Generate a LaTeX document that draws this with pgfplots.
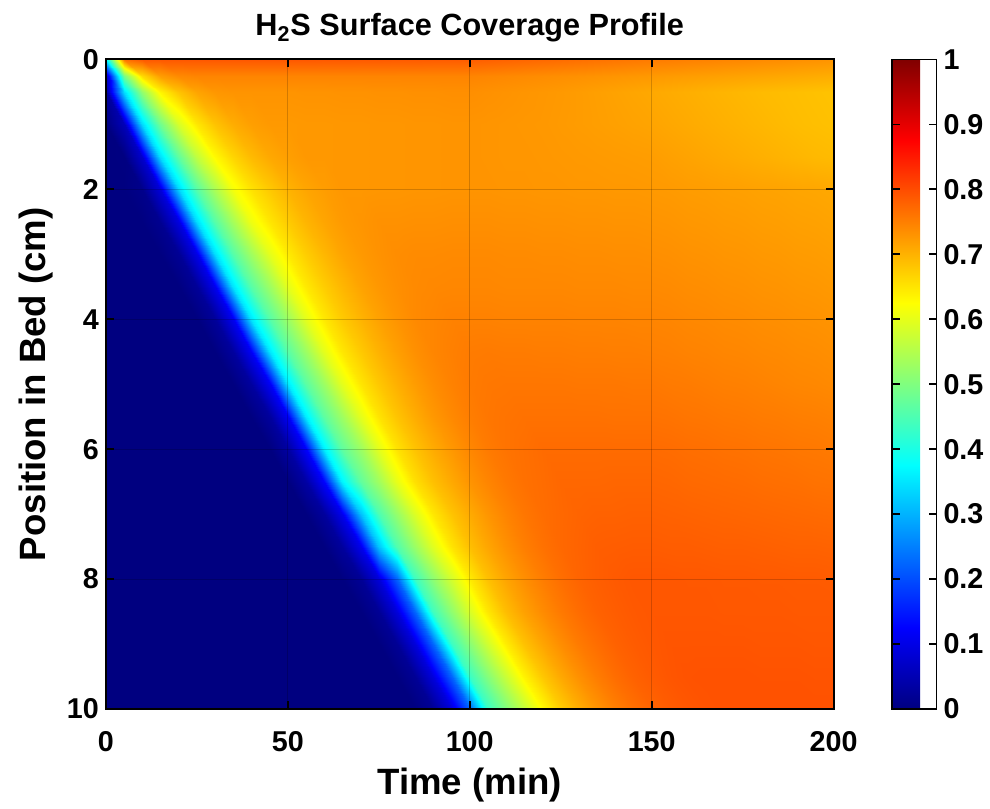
\documentclass[border=0pt]{standalone}
\usepackage{fontspec}
\setmainfont{Liberation Sans}
\usepackage{pgfplots}
\pgfplotsset{compat=1.18}
\pgfkeys{/pgf/number format/assume math mode=true}
\begin{document}
\begin{tikzpicture}[font=\bfseries]
\begin{axis}[
  scale only axis, width=368pt, height=328.5pt,
  xmin=0, xmax=200, ymin=0, ymax=10, y dir=reverse,
  enlargelimits=false,
  xtick={0,50,100,150,200}, ytick={0,2,4,6,8,10},
  axis on top,
  grid=major, grid style={black, opacity=0.18, line width=0.6pt},
  major tick length=4pt, tick style={black, line width=1pt},
  axis line style={line width=1pt},
  ticklabel style={font=\fontsize{14.5}{17}\selectfont\bfseries},
  xticklabel style={yshift=-8pt},
  label style={font=\fontsize{18.5}{22}\selectfont\bfseries},
  xlabel style={yshift=-1pt},
  title style={font=\fontsize{15.5}{18}\selectfont\bfseries, yshift=-1pt},
  title={H\textsubscript{2}S Surface Coverage Profile},
  xlabel={Time (min)}, ylabel={Position in Bed (cm)},
  colormap/jet,
  point meta min=0, point meta max=1,
  colorbar,
  colorbar style={
    width=22.5pt,
    at={(parent axis.north east)}, anchor=north west, xshift=21pt,
    ytick={0,0.1,0.2,0.3,0.4,0.5,0.6,0.7,0.8,0.9,1},
    yticklabel style={font=\fontsize{14.5}{17}\selectfont\bfseries, /pgf/number format/fixed, /pgf/number format/precision=1},
    major tick length=4pt, tick style={black, line width=0.8pt},
    axis line style={line width=0.8pt},
  },
]
\addplot[surf, shader=interp, mesh/cols=41, point meta=explicit] coordinates {
(0,10)[0] (5,10)[0] (10,10)[0] (15,10)[0] (20,10)[0] (25,10)[0] (30,10)[0] (35,10)[0] (40,10)[0] (45,10)[0] (50,10)[0] (55,10)[0] (60,10)[0] (65,10)[0] (70,10)[0] (75,10)[0] (80,10)[0] (85,10)[0] (90,10)[.021] (95,10)[.090] (100,10)[.224] (105,10)[.430] (110,10)[.500] (115,10)[.565] (120,10)[.630] (125,10)[.675] (130,10)[.705] (135,10)[.730] (140,10)[.750] (145,10)[.765] (150,10)[.777] (155,10)[.785] (160,10)[.790] (165,10)[.793] (170,10)[.795] (175,10)[.795] (180,10)[.795] (185,10)[.795] (190,10)[.795] (195,10)[.795] (200,10)[.795]

(0,9.5)[0] (5,9.5)[0] (10,9.5)[0] (15,9.5)[0] (20,9.5)[0] (25,9.5)[0] (30,9.5)[0] (35,9.5)[0] (40,9.5)[0] (45,9.5)[0] (50,9.5)[0] (55,9.5)[0] (60,9.5)[0] (65,9.5)[0] (70,9.5)[0] (75,9.5)[0] (80,9.5)[0] (85,9.5)[.021] (90,9.5)[.090] (95,9.5)[.224] (100,9.5)[.432] (105,9.5)[.505] (110,9.5)[.572] (115,9.5)[.636] (120,9.5)[.680] (125,9.5)[.710] (130,9.5)[.734] (135,9.5)[.753] (140,9.5)[.768] (145,9.5)[.779] (150,9.5)[.786] (155,9.5)[.791] (160,9.5)[.794] (165,9.5)[.795] (170,9.5)[.795] (175,9.5)[.795] (180,9.5)[.794] (185,9.5)[.794] (190,9.5)[.794] (195,9.5)[.793] (200,9.5)[.793]

(0,9)[0] (5,9)[0] (10,9)[0] (15,9)[0] (20,9)[0] (25,9)[0] (30,9)[0] (35,9)[0] (40,9)[0] (45,9)[0] (50,9)[0] (55,9)[0] (60,9)[0] (65,9)[0] (70,9)[0] (75,9)[0] (80,9)[.021] (85,9)[.090] (90,9)[.224] (95,9)[.435] (100,9)[.510] (105,9)[.580] (110,9)[.643] (115,9)[.685] (120,9)[.714] (125,9)[.737] (130,9)[.755] (135,9)[.768] (140,9)[.779] (145,9)[.785] (150,9)[.789] (155,9)[.792] (160,9)[.792] (165,9)[.792] (170,9)[.792] (175,9)[.792] (180,9)[.791] (185,9)[.791] (190,9)[.791] (195,9)[.790] (200,9)[.790]

(0,8.5)[0] (5,8.5)[0] (10,8.5)[0] (15,8.5)[0] (20,8.5)[0] (25,8.5)[0] (30,8.5)[0] (35,8.5)[0] (40,8.5)[0] (45,8.5)[0] (50,8.5)[0] (55,8.5)[0] (60,8.5)[0] (65,8.5)[0] (70,8.5)[0] (75,8.5)[.021] (80,8.5)[.090] (85,8.5)[.224] (90,8.5)[.438] (95,8.5)[.517] (100,8.5)[.588] (105,8.5)[.649] (110,8.5)[.690] (115,8.5)[.717] (120,8.5)[.739] (125,8.5)[.756] (130,8.5)[.769] (135,8.5)[.779] (140,8.5)[.784] (145,8.5)[.788] (150,8.5)[.790] (155,8.5)[.790] (160,8.5)[.790] (165,8.5)[.790] (170,8.5)[.789] (175,8.5)[.789] (180,8.5)[.789] (185,8.5)[.789] (190,8.5)[.788] (195,8.5)[.788] (200,8.5)[.788]

(0,8)[0] (5,8)[0] (10,8)[0] (15,8)[0] (20,8)[0] (25,8)[0] (30,8)[0] (35,8)[0] (40,8)[0] (45,8)[0] (50,8)[0] (55,8)[0] (60,8)[0] (65,8)[0] (70,8)[.021] (75,8)[.089] (80,8)[.223] (85,8)[.435] (90,8)[.513] (95,8)[.584] (100,8)[.645] (105,8)[.687] (110,8)[.714] (115,8)[.735] (120,8)[.753] (125,8)[.767] (130,8)[.777] (135,8)[.783] (140,8)[.787] (145,8)[.790] (150,8)[.790] (155,8)[.790] (160,8)[.789] (165,8)[.789] (170,8)[.788] (175,8)[.788] (180,8)[.787] (185,8)[.787] (190,8)[.786] (195,8)[.786] (200,8)[.785]

(0,7.5)[0] (5,7.5)[0] (10,7.5)[0] (15,7.5)[0] (20,7.5)[0] (25,7.5)[0] (30,7.5)[0] (35,7.5)[0] (40,7.5)[0] (45,7.5)[0] (50,7.5)[0] (55,7.5)[0] (60,7.5)[0] (65,7.5)[.028] (70,7.5)[.107] (75,7.5)[.318] (80,7.5)[.454] (85,7.5)[.526] (90,7.5)[.594] (95,7.5)[.652] (100,7.5)[.688] (105,7.5)[.713] (110,7.5)[.734] (115,7.5)[.751] (120,7.5)[.764] (125,7.5)[.773] (130,7.5)[.778] (135,7.5)[.783] (140,7.5)[.784] (145,7.5)[.785] (150,7.5)[.785] (155,7.5)[.784] (160,7.5)[.784] (165,7.5)[.783] (170,7.5)[.782] (175,7.5)[.782] (180,7.5)[.781] (185,7.5)[.780] (190,7.5)[.779] (195,7.5)[.779] (200,7.5)[.778]

(0,7)[0] (5,7)[0] (10,7)[0] (15,7)[0] (20,7)[0] (25,7)[0] (30,7)[0] (35,7)[0] (40,7)[0] (45,7)[0] (50,7)[0] (55,7)[0] (60,7)[.028] (65,7)[.106] (70,7)[.316] (75,7)[.451] (80,7)[.522] (85,7)[.591] (90,7)[.648] (95,7)[.684] (100,7)[.708] (105,7)[.729] (110,7)[.746] (115,7)[.759] (120,7)[.768] (125,7)[.773] (130,7)[.777] (135,7)[.779] (140,7)[.779] (145,7)[.780] (150,7)[.780] (155,7)[.779] (160,7)[.778] (165,7)[.777] (170,7)[.776] (175,7)[.775] (180,7)[.774] (185,7)[.773] (190,7)[.772] (195,7)[.771] (200,7)[.770]

(0,6.5)[0] (5,6.5)[0] (10,6.5)[0] (15,6.5)[0] (20,6.5)[0] (25,6.5)[0] (30,6.5)[0] (35,6.5)[0] (40,6.5)[0] (45,6.5)[0] (50,6.5)[0] (55,6.5)[.035] (60,6.5)[.123] (65,6.5)[.362] (70,6.5)[.470] (75,6.5)[.532] (80,6.5)[.602] (85,6.5)[.656] (90,6.5)[.687] (95,6.5)[.710] (100,6.5)[.730] (105,6.5)[.745] (110,6.5)[.757] (115,6.5)[.765] (120,6.5)[.769] (125,6.5)[.774] (130,6.5)[.774] (135,6.5)[.774] (140,6.5)[.775] (145,6.5)[.775] (150,6.5)[.775] (155,6.5)[.774] (160,6.5)[.772] (165,6.5)[.771] (170,6.5)[.770] (175,6.5)[.769] (180,6.5)[.767] (185,6.5)[.766] (190,6.5)[.765] (195,6.5)[.763] (200,6.5)[.762]

(0,6)[0] (5,6)[0] (10,6)[0] (15,6)[0] (20,6)[0] (25,6)[0] (30,6)[0] (35,6)[0] (40,6)[0] (45,6)[0] (50,6)[.034] (55,6)[.122] (60,6)[.360] (65,6)[.468] (70,6)[.529] (75,6)[.599] (80,6)[.653] (85,6)[.684] (90,6)[.707] (95,6)[.727] (100,6)[.743] (105,6)[.755] (110,6)[.762] (115,6)[.766] (120,6)[.770] (125,6)[.770] (130,6)[.770] (135,6)[.770] (140,6)[.770] (145,6)[.770] (150,6)[.770] (155,6)[.769] (160,6)[.767] (165,6)[.766] (170,6)[.764] (175,6)[.763] (180,6)[.761] (185,6)[.760] (190,6)[.758] (195,6)[.757] (200,6)[.755]

(0,5.5)[0] (5,5.5)[0] (10,5.5)[0] (15,5.5)[0] (20,5.5)[0] (25,5.5)[0] (30,5.5)[0] (35,5.5)[0] (40,5.5)[0] (45,5.5)[.029] (50,5.5)[.115] (55,5.5)[.357] (60,5.5)[.466] (65,5.5)[.529] (70,5.5)[.599] (75,5.5)[.652] (80,5.5)[.683] (85,5.5)[.706] (90,5.5)[.726] (95,5.5)[.741] (100,5.5)[.752] (105,5.5)[.759] (110,5.5)[.762] (115,5.5)[.764] (120,5.5)[.764] (125,5.5)[.764] (130,5.5)[.764] (135,5.5)[.764] (140,5.5)[.763] (145,5.5)[.763] (150,5.5)[.763] (155,5.5)[.762] (160,5.5)[.760] (165,5.5)[.759] (170,5.5)[.757] (175,5.5)[.756] (180,5.5)[.754] (185,5.5)[.753] (190,5.5)[.751] (195,5.5)[.750] (200,5.5)[.748]

(0,5)[0] (5,5)[0] (10,5)[0] (15,5)[0] (20,5)[0] (25,5)[0] (30,5)[0] (35,5)[0] (40,5)[.030] (45,5)[.116] (50,5)[.355] (55,5)[.464] (60,5)[.528] (65,5)[.598] (70,5)[.650] (75,5)[.680] (80,5)[.703] (85,5)[.722] (90,5)[.737] (95,5)[.748] (100,5)[.755] (105,5)[.758] (110,5)[.759] (115,5)[.759] (120,5)[.759] (125,5)[.759] (130,5)[.758] (135,5)[.758] (140,5)[.758] (145,5)[.757] (150,5)[.757] (155,5)[.755] (160,5)[.754] (165,5)[.752] (170,5)[.750] (175,5)[.749] (180,5)[.747] (185,5)[.745] (190,5)[.743] (195,5)[.742] (200,5)[.740]

(0,4.5)[0] (5,4.5)[0] (10,4.5)[0] (15,4.5)[0] (20,4.5)[0] (25,4.5)[0] (30,4.5)[0] (35,4.5)[.029] (40,4.5)[.113] (45,4.5)[.353] (50,4.5)[.462] (55,4.5)[.528] (60,4.5)[.598] (65,4.5)[.648] (70,4.5)[.678] (75,4.5)[.701] (80,4.5)[.719] (85,4.5)[.734] (90,4.5)[.744] (95,4.5)[.750] (100,4.5)[.754] (105,4.5)[.755] (110,4.5)[.754] (115,4.5)[.754] (120,4.5)[.753] (125,4.5)[.753] (130,4.5)[.752] (135,4.5)[.752] (140,4.5)[.751] (145,4.5)[.751] (150,4.5)[.750] (155,4.5)[.749] (160,4.5)[.747] (165,4.5)[.746] (170,4.5)[.744] (175,4.5)[.743] (180,4.5)[.741] (185,4.5)[.740] (190,4.5)[.738] (195,4.5)[.737] (200,4.5)[.735]

(0,4)[0] (5,4)[0] (10,4)[0] (15,4)[0] (20,4)[0] (25,4)[0] (30,4)[.026] (35,4)[.110] (40,4)[.350] (45,4)[.461] (50,4)[.529] (55,4)[.599] (60,4)[.647] (65,4)[.677] (70,4)[.699] (75,4)[.717] (80,4)[.730] (85,4)[.740] (90,4)[.744] (95,4)[.748] (100,4)[.748] (105,4)[.748] (110,4)[.747] (115,4)[.747] (120,4)[.747] (125,4)[.747] (130,4)[.746] (135,4)[.746] (140,4)[.746] (145,4)[.745] (150,4)[.745] (155,4)[.744] (160,4)[.742] (165,4)[.741] (170,4)[.739] (175,4)[.738] (180,4)[.736] (185,4)[.735] (190,4)[.733] (195,4)[.732] (200,4)[.730]

(0,3.5)[0] (5,3.5)[0] (10,3.5)[0] (15,3.5)[0] (20,3.5)[0] (25,3.5)[.024] (30,3.5)[.107] (35,3.5)[.348] (40,3.5)[.459] (45,3.5)[.529] (50,3.5)[.599] (55,3.5)[.646] (60,3.5)[.674] (65,3.5)[.696] (70,3.5)[.715] (75,3.5)[.727] (80,3.5)[.735] (85,3.5)[.740] (90,3.5)[.742] (95,3.5)[.743] (100,3.5)[.743] (105,3.5)[.743] (110,3.5)[.742] (115,3.5)[.742] (120,3.5)[.742] (125,3.5)[.742] (130,3.5)[.741] (135,3.5)[.741] (140,3.5)[.741] (145,3.5)[.740] (150,3.5)[.740] (155,3.5)[.739] (160,3.5)[.737] (165,3.5)[.736] (170,3.5)[.734] (175,3.5)[.733] (180,3.5)[.731] (185,3.5)[.730] (190,3.5)[.728] (195,3.5)[.727] (200,3.5)[.725]

(0,3)[0] (5,3)[0] (10,3)[0] (15,3)[0] (20,3)[.021] (25,3)[.103] (30,3)[.345] (35,3)[.459] (40,3)[.531] (45,3)[.600] (50,3)[.645] (55,3)[.674] (60,3)[.696] (65,3)[.714] (70,3)[.725] (75,3)[.732] (80,3)[.737] (85,3)[.739] (90,3)[.739] (95,3)[.740] (100,3)[.740] (105,3)[.740] (110,3)[.739] (115,3)[.739] (120,3)[.738] (125,3)[.738] (130,3)[.737] (135,3)[.737] (140,3)[.736] (145,3)[.736] (150,3)[.735] (155,3)[.734] (160,3)[.732] (165,3)[.731] (170,3)[.729] (175,3)[.728] (180,3)[.726] (185,3)[.725] (190,3)[.723] (195,3)[.722] (200,3)[.720]

(0,2.5)[0] (5,2.5)[0] (10,2.5)[0] (15,2.5)[.016] (20,2.5)[.096] (25,2.5)[.343] (30,2.5)[.460] (35,2.5)[.537] (40,2.5)[.608] (45,2.5)[.650] (50,2.5)[.676] (55,2.5)[.698] (60,2.5)[.713] (65,2.5)[.724] (70,2.5)[.729] (75,2.5)[.733] (80,2.5)[.733] (85,2.5)[.734] (90,2.5)[.734] (95,2.5)[.735] (100,2.5)[.735] (105,2.5)[.735] (110,2.5)[.734] (115,2.5)[.734] (120,2.5)[.733] (125,2.5)[.733] (130,2.5)[.732] (135,2.5)[.732] (140,2.5)[.731] (145,2.5)[.731] (150,2.5)[.730] (155,2.5)[.729] (160,2.5)[.727] (165,2.5)[.726] (170,2.5)[.724] (175,2.5)[.723] (180,2.5)[.721] (185,2.5)[.720] (190,2.5)[.718] (195,2.5)[.717] (200,2.5)[.715]

(0,2)[0] (5,2)[0] (10,2)[.011] (15,2)[.088] (20,2)[.341] (25,2)[.462] (30,2)[.544] (35,2)[.616] (40,2)[.653] (45,2)[.679] (50,2)[.700] (55,2)[.713] (60,2)[.721] (65,2)[.727] (70,2)[.727] (75,2)[.728] (80,2)[.728] (85,2)[.729] (90,2)[.729] (95,2)[.730] (100,2)[.730] (105,2)[.730] (110,2)[.729] (115,2)[.729] (120,2)[.728] (125,2)[.728] (130,2)[.727] (135,2)[.727] (140,2)[.726] (145,2)[.726] (150,2)[.725] (155,2)[.724] (160,2)[.722] (165,2)[.721] (170,2)[.719] (175,2)[.718] (180,2)[.716] (185,2)[.715] (190,2)[.713] (195,2)[.712] (200,2)[.710]

(0,1.5)[0] (5,1.5)[.001] (10,1.5)[.075] (15,1.5)[.341] (20,1.5)[.471] (25,1.5)[.564] (30,1.5)[.630] (35,1.5)[.666] (40,1.5)[.692] (45,1.5)[.710] (50,1.5)[.719] (55,1.5)[.726] (60,1.5)[.726] (65,1.5)[.727] (70,1.5)[.727] (75,1.5)[.728] (80,1.5)[.728] (85,1.5)[.729] (90,1.5)[.729] (95,1.5)[.730] (100,1.5)[.730] (105,1.5)[.729] (110,1.5)[.728] (115,1.5)[.728] (120,1.5)[.727] (125,1.5)[.726] (130,1.5)[.725] (135,1.5)[.724] (140,1.5)[.723] (145,1.5)[.722] (150,1.5)[.721] (155,1.5)[.718] (160,1.5)[.715] (165,1.5)[.712] (170,1.5)[.709] (175,1.5)[.706] (180,1.5)[.703] (185,1.5)[.700] (190,1.5)[.697] (195,1.5)[.694] (200,1.5)[.692]

(0,1)[0] (5,1)[.056] (10,1)[.341] (15,1)[.484] (20,1)[.588] (25,1)[.649] (30,1)[.684] (35,1)[.706] (40,1)[.719] (45,1)[.725] (50,1)[.725] (55,1)[.726] (60,1)[.726] (65,1)[.727] (70,1)[.727] (75,1)[.728] (80,1)[.728] (85,1)[.729] (90,1)[.729] (95,1)[.730] (100,1)[.730] (105,1)[.729] (110,1)[.728] (115,1)[.727] (120,1)[.726] (125,1)[.724] (130,1)[.722] (135,1)[.720] (140,1)[.718] (145,1)[.716] (150,1)[.714] (155,1)[.711] (160,1)[.708] (165,1)[.705] (170,1)[.702] (175,1)[.699] (180,1)[.696] (185,1)[.693] (190,1)[.690] (195,1)[.688] (200,1)[.686]

(0,0.5)[.026] (5,0.5)[.343] (10,0.5)[.518] (15,0.5)[.634] (20,0.5)[.684] (25,0.5)[.714] (30,0.5)[.727] (35,0.5)[.73] (40,0.5)[.73] (45,0.5)[.73] (50,0.5)[.73] (55,0.5)[.731] (60,0.5)[.731] (65,0.5)[.732] (70,0.5)[.732] (75,0.5)[.733] (80,0.5)[.733] (85,0.5)[.734] (90,0.5)[.734] (95,0.5)[.735] (100,0.5)[.735] (105,0.5)[.733] (110,0.5)[.731] (115,0.5)[.729] (120,0.5)[.727] (125,0.5)[.725] (130,0.5)[.722] (135,0.5)[.719] (140,0.5)[.716] (145,0.5)[.713] (150,0.5)[.710] (155,0.5)[.707] (160,0.5)[.704] (165,0.5)[.701] (170,0.5)[.698] (175,0.5)[.695] (180,0.5)[.692] (185,0.5)[.690] (190,0.5)[.688] (195,0.5)[.686] (200,0.5)[.684]

(0,0.25)[.060] (5,0.25)[.490] (10,0.25)[.660] (15,0.25)[.720] (20,0.25)[.740] (25,0.25)[.745] (30,0.25)[.745] (35,0.25)[.745] (40,0.25)[.745] (45,0.25)[.745] (50,0.25)[.745] (55,0.25)[.745] (60,0.25)[.745] (65,0.25)[.745] (70,0.25)[.745] (75,0.25)[.745] (80,0.25)[.745] (85,0.25)[.745] (90,0.25)[.745] (95,0.25)[.745] (100,0.25)[.745] (105,0.25)[.743] (110,0.25)[.741] (115,0.25)[.739] (120,0.25)[.737] (125,0.25)[.735] (130,0.25)[.733] (135,0.25)[.731] (140,0.25)[.729] (145,0.25)[.727] (150,0.25)[.725] (155,0.25)[.723] (160,0.25)[.721] (165,0.25)[.719] (170,0.25)[.717] (175,0.25)[.715] (180,0.25)[.713] (185,0.25)[.711] (190,0.25)[.709] (195,0.25)[.707] (200,0.25)[.705]

(0,0)[.371] (5,0)[.766] (10,0)[.79] (15,0)[.79] (20,0)[.79] (25,0)[.79] (30,0)[.79] (35,0)[.79] (40,0)[.79] (45,0)[.79] (50,0)[.79] (55,0)[.790] (60,0)[.789] (65,0)[.789] (70,0)[.788] (75,0)[.788] (80,0)[.787] (85,0)[.787] (90,0)[.786] (95,0)[.786] (100,0)[.785] (105,0)[.782] (110,0)[.779] (115,0)[.776] (120,0)[.773] (125,0)[.770] (130,0)[.767] (135,0)[.764] (140,0)[.761] (145,0)[.758] (150,0)[.755] (155,0)[.753] (160,0)[.750] (165,0)[.748] (170,0)[.745] (175,0)[.743] (180,0)[.740] (185,0)[.738] (190,0)[.735] (195,0)[.733] (200,0)[.730]
};
\end{axis}
\path (-53.5pt,-50pt) rectangle (441.5pt,358.5pt);
\end{tikzpicture}
\end{document}
